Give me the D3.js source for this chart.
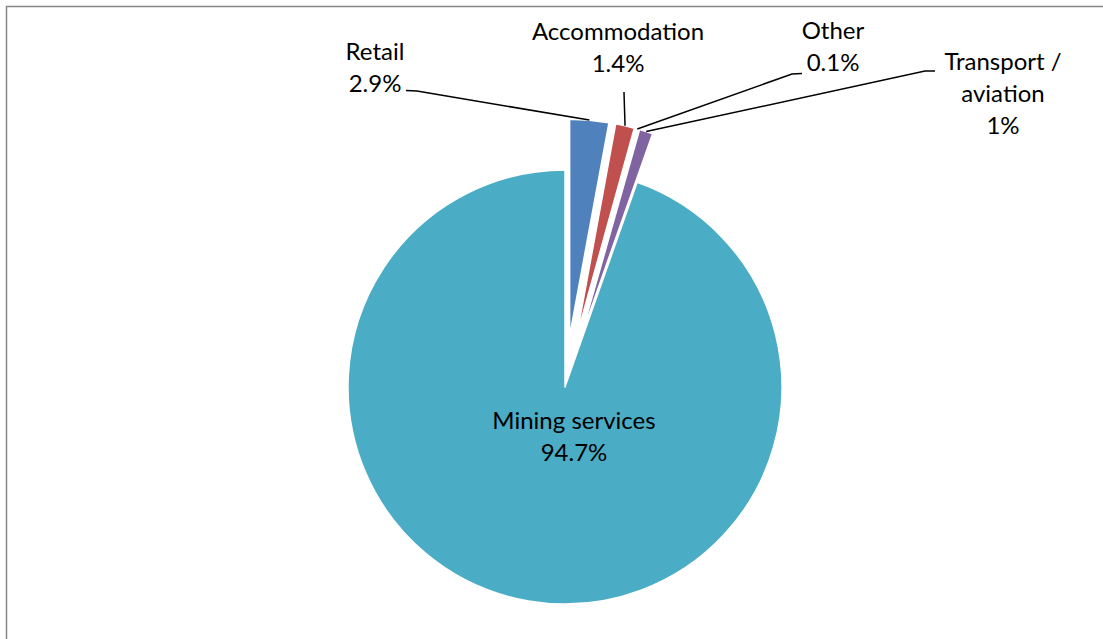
<!DOCTYPE html>
<html>
<head>
<meta charset="utf-8">
<script src="https://cdnjs.cloudflare.com/ajax/libs/d3/7.8.5/d3.min.js"></script>
<style>
  html, body { margin: 0; padding: 0; background: #fff; }
  svg text { font-family: Lato, "Open Sans", sans-serif; fill: #000; }
</style>
</head>
<body>
<svg id="chart" width="1103" height="639"></svg>
<script>
// Revenue share by sector
const categories = ["Retail", "Accommodation", "Other", "Transport / aviation", "Mining services"];
const shares = [2.9, 1.4, 0.1, 1, 94.7];
const valueLabels = ["2.9%", "1.4%", "0.1%", "1%", "94.7%"];
const colors = ["#4F81BD", "#C0504D", "#9BBB59", "#8064A2", "#4BACC6"];

// Layout
const width = 1103, height = 639;
const cx = 565, cy = 387, radius = 217;
const explode = [51, 51, 51, 51, 0];
const fontSize = 24, lineGap = 32;

// Label blocks: text lines, centre x, first baseline, leader start points
const labelLayout = [
  { lines: ["Retail", valueLabels[0]], x: 375, y: 60, leader: [[406, 90.5], [417, 91]] },
  { lines: ["Accommodation", valueLabels[1]], x: 618, y: 40, leader: [[624, 92]] },
  { lines: ["Other", valueLabels[2]], x: 833, y: 38.5, leader: [[802, 73.5], [792, 74]] },
  { lines: ["Transport /", "aviation", valueLabels[3]], x: 1003, y: 70, leader: [[935, 71], [925, 71]] },
  { lines: ["Mining services", valueLabels[4]], x: 574, y: 428.5, leader: null }
];

const svg = d3.select("#chart");

// Chart-area frame
svg.append("rect")
  .attr("x", 6.5).attr("y", 6.5)
  .attr("width", width + 50).attr("height", height + 50)
  .attr("fill", "#fff")
  .attr("stroke", "#868686")
  .attr("stroke-width", 1.5);

const pie = d3.pie().sort(null).value(d => d)
  .startAngle(0).endAngle(2 * Math.PI);
const arcs = pie(shares);
const arc = d3.arc().innerRadius(0).outerRadius(radius);

function offsetOf(d, i) {
  const a = (d.startAngle + d.endAngle) / 2;
  return [Math.sin(a) * explode[i], -Math.cos(a) * explode[i]];
}

const g = svg.append("g").attr("transform", `translate(${cx},${cy})`);

g.selectAll("path.slice")
  .data(arcs)
  .join("path")
  .attr("class", "slice")
  .attr("transform", (d, i) => {
    const [dx, dy] = offsetOf(d, i);
    return `translate(${dx},${dy})`;
  })
  .attr("d", arc)
  .attr("fill", (d, i) => colors[i])
  .attr("stroke", "#fff")
  .attr("stroke-width", 1.5)
  .attr("stroke-linejoin", "round");

// Leader lines from label to the outer edge of each exploded slice
const leaders = svg.append("g");
arcs.forEach((d, i) => {
  const lay = labelLayout[i];
  if (!lay.leader) return;
  const a = (d.startAngle + d.endAngle) / 2;
  const [dx, dy] = offsetOf(d, i);
  const end = [cx + dx + Math.sin(a) * radius, cy + dy - Math.cos(a) * radius];
  const pts = lay.leader.concat([end]);
  leaders.append("path")
    .attr("d", d3.line()(pts))
    .attr("fill", "none")
    .attr("stroke", "#000")
    .attr("stroke-width", 1.5);
});

// Data labels
const labels = svg.append("g");
labelLayout.forEach((lay, i) => {
  const t = labels.append("text")
    .attr("text-anchor", "middle")
    .attr("font-size", fontSize);
  lay.lines.forEach((line, k) => {
    t.append("tspan")
      .attr("x", lay.x)
      .attr("y", lay.y + k * lineGap)
      .text(line);
  });
});
</script>
</body>
</html>
